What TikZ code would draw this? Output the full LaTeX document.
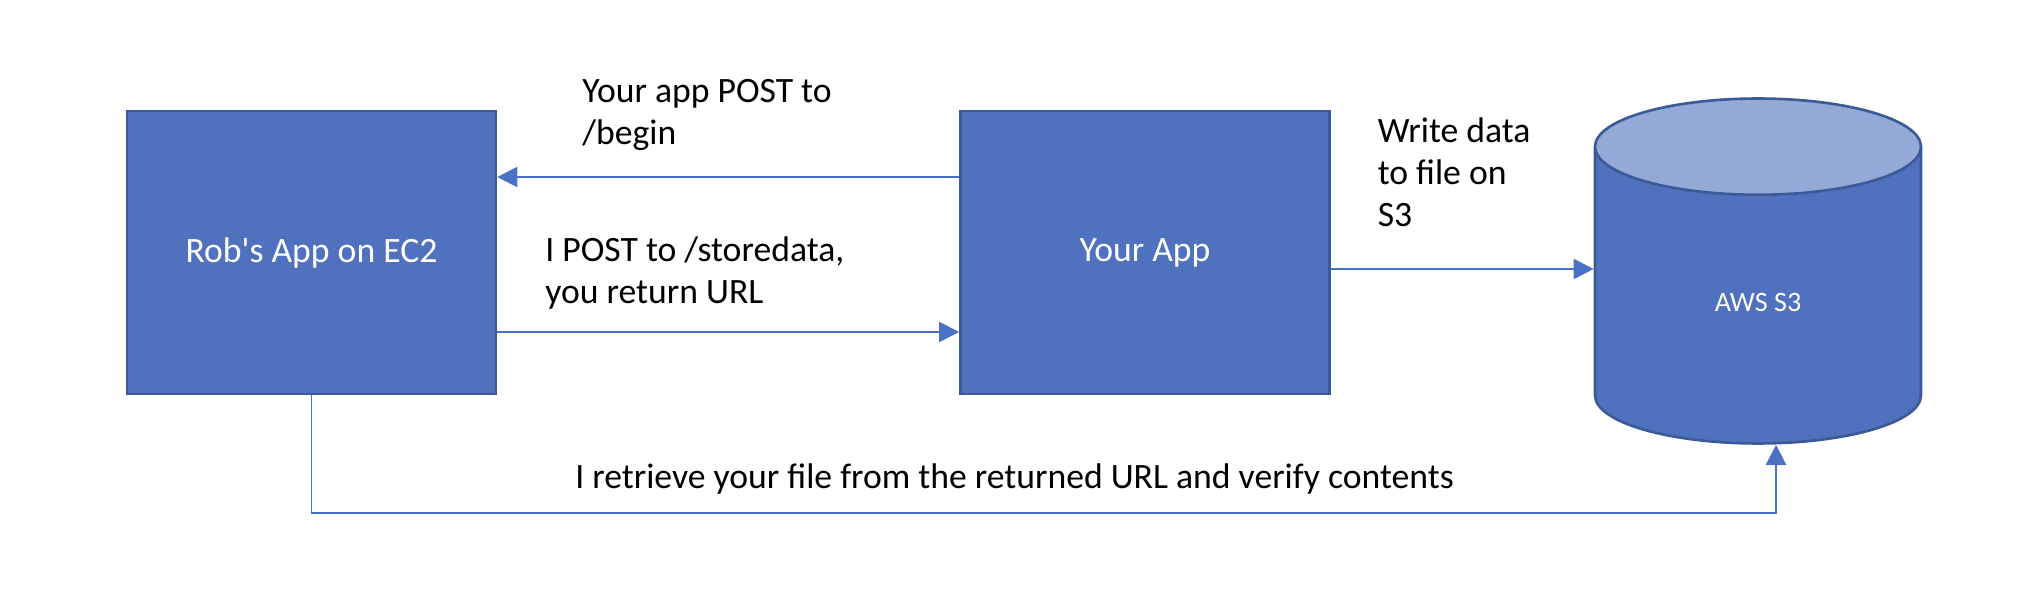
\documentclass[tikz,border=0pt]{standalone}
\usepackage{fontspec}
\setmainfont{Carlito}
\usetikzlibrary{shapes.geometric,arrows.meta,positioning}

\definecolor{boxblue}{HTML}{4F71BE}
\definecolor{boxedge}{HTML}{3A5A98}
\definecolor{toplight}{HTML}{94A9D6}
\definecolor{lineblue}{HTML}{4A72C4}

\begin{document}
\begin{tikzpicture}[
  x=0.02cm, y=0.02cm,
  node distance=9.24cm,
  box/.style={draw=boxedge, line width=1.5pt, fill=boxblue, text=white,
              minimum width=7.38cm, minimum height=5.66cm, font=\fontsize{20.3}{24}\selectfont},
  db/.style={draw=boxedge, line width=1.5pt, cylinder, shape border rotate=90, aspect=0.98,
             minimum width=6.52cm, minimum height=6.9cm, cylinder uses custom fill,
             cylinder body fill=boxblue, cylinder end fill=toplight, text=white,
             font=\fontsize{16}{19}\selectfont},
  lbl/.style={align=left, inner sep=0pt, font=\fontsize{20.3}{23.8}\selectfont},
  arr/.style={-{Triangle[length=0.4cm,width=0.4cm]}, line width=1.1pt, draw=lineblue}
]
\useasboundingbox (0,0) rectangle (2042,612);
\node[box] (robapp) at (311.5,359.5) {Rob\textquotesingle s App on EC2};
\node[box, right=of robapp] (yourapp) {Your App};
\node[db, anchor=shape center] (s3) at (1758,341) {AWS S3};
\coordinate (wout) at ([yshift=-0.33cm]yourapp.east);
\coordinate (retcorner) at (1776,99);

\draw[arr] ([yshift=1.51cm]yourapp.west) -- node[lbl, pos=0.818, anchor=west, yshift=1.24cm]{Your app POST to\\/begin} ([yshift=1.51cm]robapp.east);
\draw[arr] ([yshift=-1.59cm]robapp.east) -- node[lbl, pos=0.102, anchor=west, yshift=1.18cm]{I POST to /storedata,\\you return URL} ([yshift=-1.59cm]yourapp.west);
\draw[arr] (wout) -- node[lbl, pos=0.175, anchor=west, yshift=1.93cm]{Write data\\to file on\\S3} (wout -| s3.west);
\draw[arr] (robapp.south) |- node[lbl, pos=0.74, yshift=0.68cm]{I retrieve your file from the returned URL and verify contents} (retcorner) -- (retcorner |- s3.south);
\end{tikzpicture}
\end{document}
